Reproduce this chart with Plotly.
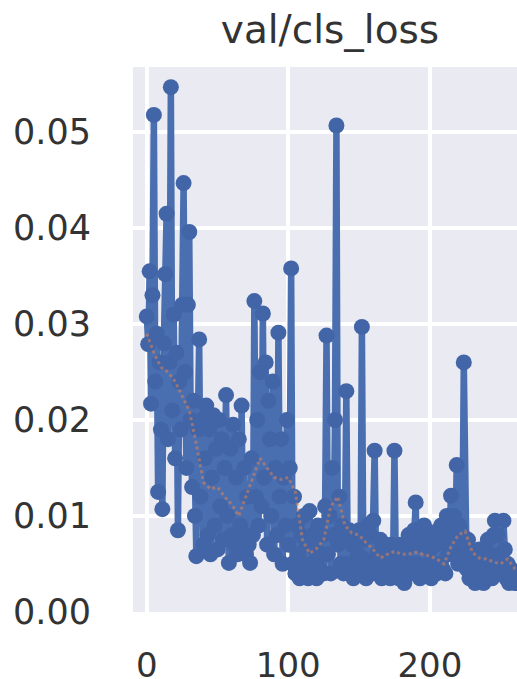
import plotly.graph_objects as go

title_text = "val/cls_loss"

cls_loss = [
    0.0308, 0.0279, 0.0355, 0.0217, 0.0330, 0.0518, 0.0240, 0.0290, 0.0125, 0.0260,
    0.0190, 0.0107, 0.0280, 0.0352, 0.0415, 0.0180, 0.0260, 0.0547, 0.0210, 0.0310,
    0.0160, 0.0270, 0.0085, 0.0240, 0.0190, 0.0320, 0.0447, 0.0250, 0.0150, 0.0320,
    0.0396, 0.0200, 0.0130, 0.0220, 0.0100, 0.0058, 0.0190, 0.0284, 0.0120, 0.0200,
    0.0070, 0.0160, 0.0215, 0.0080, 0.0190, 0.0060, 0.0140, 0.0205, 0.0090, 0.0170,
    0.0065, 0.0200, 0.0110, 0.0180, 0.0075, 0.0150, 0.0226, 0.0100, 0.0051, 0.0170,
    0.0080, 0.0195, 0.0070, 0.0140, 0.0060, 0.0180, 0.0090, 0.0215, 0.0080, 0.0150,
    0.0060, 0.0120, 0.0070, 0.0051, 0.0160, 0.0080, 0.0324, 0.0120, 0.0200, 0.0090,
    0.0250, 0.0110, 0.0311, 0.0140, 0.0260, 0.0070, 0.0220, 0.0180, 0.0100, 0.0240,
    0.0060, 0.0150, 0.0080, 0.0291, 0.0120, 0.0180, 0.0050, 0.0140, 0.0090, 0.0200,
    0.0070, 0.0150, 0.0358, 0.0050, 0.0120, 0.0040, 0.0090, 0.0060, 0.0035, 0.0080,
    0.0045, 0.0100, 0.0040, 0.0070, 0.0035, 0.0105, 0.0050, 0.0080, 0.0040, 0.0065,
    0.0035, 0.0090, 0.0045, 0.0060, 0.0080, 0.0040, 0.0110, 0.0288, 0.0060, 0.0100,
    0.0040, 0.0150, 0.0080, 0.0200, 0.0507, 0.0070, 0.0120, 0.0050, 0.0090, 0.0040,
    0.0080, 0.0230, 0.0050, 0.0085, 0.0040, 0.0070, 0.0035, 0.0075, 0.0045, 0.0060,
    0.0085, 0.0040, 0.0297, 0.0055, 0.0075, 0.0035, 0.0090, 0.0050, 0.0080, 0.0040,
    0.0095, 0.0168, 0.0050, 0.0060, 0.0040, 0.0075, 0.0035, 0.0065, 0.0045, 0.0070,
    0.0040, 0.0060, 0.0035, 0.0070, 0.0050, 0.0168, 0.0045, 0.0065, 0.0035, 0.0070,
    0.0040, 0.0060, 0.0030, 0.0065, 0.0045, 0.0080, 0.0040, 0.0075, 0.0050, 0.0085,
    0.0114, 0.0050, 0.0070, 0.0035, 0.0080, 0.0045, 0.0090, 0.0040, 0.0075, 0.0050,
    0.0065, 0.0035, 0.0080, 0.0045, 0.0070, 0.0040, 0.0085, 0.0050, 0.0090, 0.0045,
    0.0075, 0.0040, 0.0100, 0.0060, 0.0085, 0.0121, 0.0060, 0.0100, 0.0075, 0.0153,
    0.0050, 0.0090, 0.0060, 0.0080, 0.0260, 0.0060, 0.0045, 0.0075, 0.0035, 0.0060,
    0.0040, 0.0055, 0.0030, 0.0050, 0.0040, 0.0065, 0.0035, 0.0050, 0.0030, 0.0060,
    0.0045, 0.0075, 0.0040, 0.0060, 0.0035, 0.0080, 0.0095, 0.0045, 0.0080, 0.0040,
    0.0060, 0.0040, 0.0095, 0.0065, 0.0035, 0.0050, 0.0030, 0.0045, 0.0035, 0.0040,
    0.0030, 0.0038, 0.0030, 0.0035, 0.0030,
]
epochs = list(range(len(cls_loss)))

smooth_epochs = list(range(0, 270, 5))
smooth_loss = [
    0.0290, 0.0270, 0.0255, 0.0250, 0.0240, 0.0225, 0.0210, 0.0175, 0.0135, 0.0128,
    0.0130, 0.0120, 0.0112, 0.0100, 0.0120, 0.0140, 0.0160, 0.0150, 0.0140, 0.0138,
    0.0140, 0.0125, 0.0075, 0.0061, 0.0066, 0.0075, 0.0110, 0.0120, 0.0090, 0.0082,
    0.0080, 0.0072, 0.0065, 0.0056, 0.0060, 0.0063, 0.0060, 0.0060, 0.0062, 0.0060,
    0.0058, 0.0055, 0.0050, 0.0068, 0.0080, 0.0084, 0.0062, 0.0056, 0.0055, 0.0052,
    0.0050, 0.0055, 0.0045, 0.0040,
]

x_ticks = [0, 100, 200]
y_ticks = [0.00, 0.01, 0.02, 0.03, 0.04, 0.05]
y_tick_labels = ["0.00", "0.01", "0.02", "0.03", "0.04", "0.05"]

BLUE = "#4A6FB0"
MARKER_BLUE = "#4265A8"
ORANGE = "rgba(221,132,82,0.55)"
TEXT = "#333333"
FONT = "DejaVu Sans"

fig = go.Figure()
fig.add_trace(go.Scatter(
    x=epochs, y=cls_loss, mode="lines+markers",
    line=dict(color=BLUE, width=6.5),
    marker=dict(color=MARKER_BLUE, size=16, line=dict(width=0)),
    name="results", showlegend=False, hoverinfo="skip",
))
fig.add_trace(go.Scatter(
    x=smooth_epochs, y=smooth_loss, mode="lines",
    line=dict(color=ORANGE, width=3, dash="dot"),
    name="smooth", showlegend=False, hoverinfo="skip",
))

fig.update_layout(
    width=517, height=679,
    margin=dict(l=133, r=0, t=67, b=67, autoexpand=False),
    paper_bgcolor="white",
    plot_bgcolor="#EAEAF2",
    font=dict(family=FONT, color=TEXT, size=35),
    title=dict(
        text=title_text, x=330 / 517, xref="container", xanchor="center",
        y=1 - 29 / 679, yref="container", yanchor="middle",
        font=dict(family=FONT, size=39, color=TEXT),
    ),
)
fig.update_xaxes(
    range=[-9.75, 261.6], tickvals=x_ticks, ticktext=[str(v) for v in x_ticks],
    showgrid=True, gridcolor="white", gridwidth=4, zeroline=False, automargin=False,
    showline=False, ticks="outside", ticklen=23, tickcolor="rgba(0,0,0,0)",
    tickfont=dict(family=FONT, size=34, color=TEXT),
)
fig.update_yaxes(
    range=[-0.00002, 0.0568], tickvals=y_ticks, ticktext=y_tick_labels,
    showgrid=True, gridcolor="white", gridwidth=4, zeroline=False, automargin=False,
    showline=False, ticks="outside", ticklen=34, tickcolor="rgba(0,0,0,0)",
    tickfont=dict(family=FONT, size=35, color=TEXT),
)

fig.write_html(
    "out.html",
    config={"displayModeBar": False, "staticPlot": True},
    post_script="document.body.style.margin='0';document.body.style.overflow='hidden';",
)
